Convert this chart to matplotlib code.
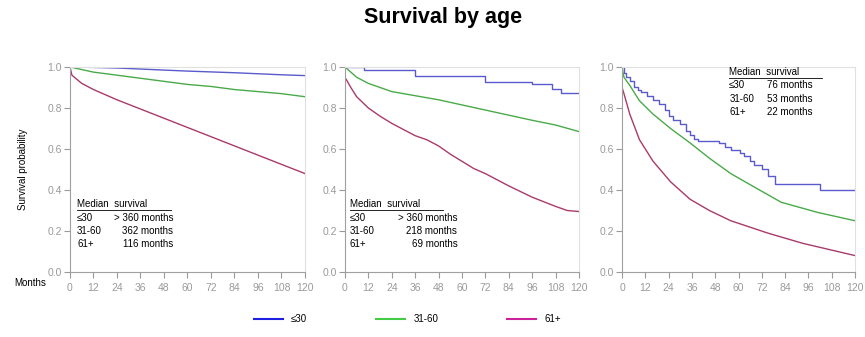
import matplotlib
matplotlib.use("Agg")
import matplotlib.pyplot as plt

plt.rcParams['font.family'] = ['Liberation Sans', 'DejaVu Sans']

# --- data (months, survival) ---
groups = ['≤30', '31-60', '61+']

p1_young_t = [0, 12, 24, 36, 48, 60, 72, 84, 96, 108, 120]
p1_young_s = [1.0, 0.998, 0.995, 0.99, 0.985, 0.98, 0.976, 0.972, 0.967, 0.962, 0.958]
p1_mid_t = [0, 12, 24, 36, 48, 60, 72, 84, 96, 108, 120]
p1_mid_s = [1.0, 0.975, 0.96, 0.945, 0.93, 0.915, 0.905, 0.89, 0.88, 0.87, 0.855]
p1_old_t = [0, 1, 6, 12, 24, 36, 48, 60, 72, 84, 96, 108, 120]
p1_old_s = [1.0, 0.96, 0.92, 0.89, 0.84, 0.795, 0.75, 0.705, 0.66, 0.615, 0.57, 0.525, 0.48]

p2_young_t = [0, 10, 36, 72, 96, 106, 111, 120]
p2_young_s = [1.0, 0.985, 0.955, 0.925, 0.915, 0.895, 0.873, 0.873]
p2_mid_t = [0, 6, 12, 18, 24, 36, 48, 60, 72, 84, 96, 108, 120]
p2_mid_s = [1.0, 0.95, 0.92, 0.90, 0.88, 0.86, 0.84, 0.815, 0.79, 0.765, 0.74, 0.717, 0.685]
p2_old_t = [0, 3, 6, 12, 18, 24, 30, 36, 42, 48, 54, 60, 66, 72, 84, 96, 108, 114, 120]
p2_old_s = [0.95, 0.9, 0.855, 0.80, 0.76, 0.725, 0.695, 0.665, 0.645, 0.615, 0.575, 0.54,
            0.505, 0.48, 0.42, 0.365, 0.32, 0.30, 0.295]

p3_young_t = [0, 1, 2, 4, 6, 8, 10, 13, 16, 19, 22, 24, 26, 30, 33, 35, 37, 39, 50, 53,
              56, 61, 63, 66, 68, 72, 75, 79, 102, 120]
p3_young_s = [1.0, 0.97, 0.95, 0.93, 0.9, 0.89, 0.88, 0.86, 0.84, 0.82, 0.79, 0.76, 0.74,
              0.72, 0.69, 0.67, 0.65, 0.64, 0.63, 0.61, 0.595, 0.58, 0.565, 0.54, 0.52,
              0.50, 0.47, 0.43, 0.40, 0.40]
p3_mid_t = [0, 1, 4, 9, 16, 25, 35, 45, 56, 68, 82, 101, 120]
p3_mid_s = [1.0, 0.95, 0.91, 0.835, 0.77, 0.70, 0.63, 0.555, 0.48, 0.415, 0.34, 0.29, 0.25]
p3_old_t = [0, 1, 4, 9, 16, 25, 35, 45, 56, 75, 93, 120]
p3_old_s = [0.9, 0.87, 0.77, 0.645, 0.54, 0.44, 0.355, 0.30, 0.25, 0.19, 0.14, 0.08]

medians = [
    ['> 360 months', '362 months', '116 months'],
    ['> 360 months', '218 months', '69 months'],
    ['76 months', '53 months', '22 months'],
]

line_colors = ['#5a5acc', '#4aaa4a', '#aa3a6a']
legend_colors = ['#1f1fe0', '#44cc44', '#cc2299']

panels = [
    [(p1_young_t, p1_young_s, None), (p1_mid_t, p1_mid_s, None), (p1_old_t, p1_old_s, None)],
    [(p2_young_t, p2_young_s, 'steps-post'), (p2_mid_t, p2_mid_s, None), (p2_old_t, p2_old_s, None)],
    [(p3_young_t, p3_young_s, 'steps-post'), (p3_mid_t, p3_mid_s, None), (p3_old_t, p3_old_s, None)],
]

fig = plt.figure(figsize=(8.65, 3.37), dpi=100)
lefts = [0.0809, 0.3988, 0.7191]
widths = [0.2717, 0.2705, 0.2694]

axes = []
for i, curves in enumerate(panels):
    ax = fig.add_axes([lefts[i], 0.1929, widths[i], 0.6083])
    for (t, s, ds), c in zip(curves, line_colors):
        ax.plot(t, s, color=c, lw=1.0, drawstyle=ds or 'default')
    ax.set_xlim(0, 120)
    ax.set_ylim(0, 1.0)
    ax.set_xticks(range(0, 121, 12))
    ax.set_yticks([0, 0.2, 0.4, 0.6, 0.8, 1.0])
    ax.set_yticklabels(['0.0', '0.2', '0.4', '0.6', '0.8', '1.0'])
    ax.tick_params(colors='#9a9a9a', labelsize=7.5, length=4, width=0.8, pad=2)
    ax.tick_params(axis='x', pad=4)
    for side in ['left', 'bottom']:
        ax.spines[side].set_color('#a0a0a0')
    for side in ['top', 'right']:
        ax.spines[side].set_color('#e0e0e0')
    axes.append(ax)

# median survival notes
def median_box(ax, x0, y0, x_val, ha, vals):
    ax.text(x0, y0, 'Median  survival', transform=ax.transAxes, fontsize=7,
            va='center', ha='left')
    ax.plot([x0, x0 + 0.40], [y0 - 0.03, y0 - 0.03], transform=ax.transAxes,
            color='black', lw=0.6, clip_on=False)
    for k, (g, v) in enumerate(zip(groups, vals)):
        yy = y0 - 0.065 * (k + 1)
        ax.text(x0, yy, g, transform=ax.transAxes, fontsize=7, va='center', ha='left')
        ax.text(x_val, yy, v, transform=ax.transAxes, fontsize=7, va='center', ha=ha)

median_box(axes[0], 0.03, 0.33, 0.44, 'right', medians[0])
median_box(axes[1], 0.02, 0.33, 0.48, 'right', medians[1])
median_box(axes[2], 0.46, 0.975, 0.62, 'left', medians[2])

axes[0].set_ylabel('Survival probability', fontsize=7, labelpad=14)
fig.text(0.016, 0.16, 'Months', fontsize=7, va='center', ha='left')
fig.suptitle('Survival by age', fontsize=15.5, fontweight='bold', x=0.512, y=0.978)

handles = [plt.Line2D([], [], color=c, lw=1.5) for c in legend_colors]
fig.legend(handles, groups, loc='center', bbox_to_anchor=(0.471, 0.053), ncol=3,
           frameon=False, fontsize=7, handlelength=3.0, handletextpad=0.8,
           columnspacing=7.1)

fig.savefig('out.png', dpi=100)
